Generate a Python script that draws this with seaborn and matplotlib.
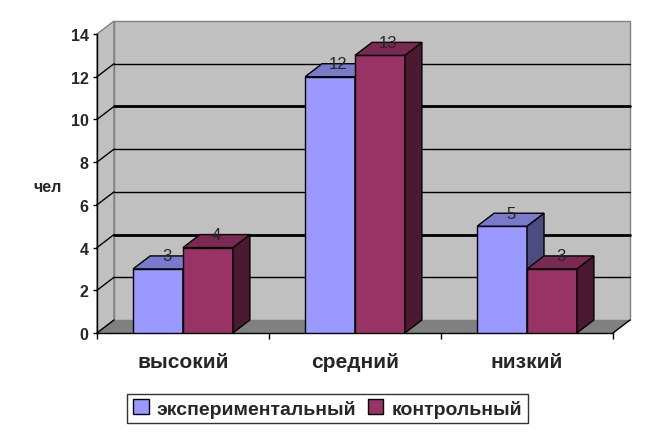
import pandas as pd
import matplotlib
matplotlib.use('Agg')
import matplotlib.pyplot as plt
import seaborn as sns
from matplotlib.patches import Polygon, Patch

levels = ['высокий', 'средний', 'низкий']
experimental = [3, 12, 5]
control = [4, 13, 3]
series = ['экспериментальный', 'контрольный']
yticks = [0, 2, 4, 6, 8, 10, 12, 14]

front_colors = ['#9999FF', '#993366']
top_colors = ['#7A7ACC', '#7A2952']
side_colors = ['#4C4C80', '#4C1933']

df = pd.DataFrame({
    'level': levels * 2,
    'count': experimental + control,
    'group': [series[0]] * len(levels) + [series[1]] * len(levels),
})

sns.set_style('white')
plt.rcParams['font.family'] = ['Liberation Sans', 'DejaVu Sans']
plt.rcParams['font.weight'] = 'bold'

fig = plt.figure(figsize=(6.58, 4.39), dpi=100)
ax = fig.add_axes([97 / 658, 105 / 439, 516 / 658, 299 / 439])
ax.set_facecolor('white')

sns.barplot(data=df, x='level', y='count', hue='group', palette=front_colors,
            saturation=1, width=0.58, edgecolor='black', linewidth=1,
            legend=False, ax=ax)
bars = sorted(ax.patches, key=lambda p: p.get_x())

ax.set_xlim(-0.5, 2.5)
ax.set_ylim(0, 14)

# depth of the fake 3d box
dx = 17 / 516 * 3
dy = 13 / 299 * 14
x0, x1 = -0.5, 2.5
ytop = yticks[-1]

# back wall, floor and left wall
ax.add_patch(Polygon([(x0 + dx, dy), (x1 + dx, dy), (x1 + dx, ytop + dy), (x0 + dx, ytop + dy)],
                     closed=True, facecolor='#C0C0C0', edgecolor='#808080', lw=1, zorder=0.5, clip_on=False))
ax.add_patch(Polygon([(x0, 0), (x0 + dx, dy), (x0 + dx, ytop + dy), (x0, ytop)],
                     closed=True, facecolor='#C0C0C0', edgecolor='#808080', lw=1, zorder=0.5, clip_on=False))
ax.add_patch(Polygon([(x0, 0), (x1, 0), (x1 + dx, dy), (x0 + dx, dy)],
                     closed=True, facecolor='#808080', edgecolor='none', zorder=0.6, clip_on=False))
ax.plot([x1, x1 + dx], [0, dy], color='black', lw=1, zorder=0.7, clip_on=False)

# gridlines on back wall + diagonals on left wall
for v in yticks[:-1]:
    lw = 2 if v in (4, 10) else 1
    if v > 0:
        ax.plot([x0 + dx, x1 + dx], [v + dy, v + dy], color='black', lw=lw, zorder=1, clip_on=False)
    ax.plot([x0, x0 + dx], [v, v + dy], color='black', lw=1, zorder=1, clip_on=False)

# 3d faces for the bars, left to right
for i, p in enumerate(bars):
    bx, w, h = p.get_x(), p.get_width(), p.get_height()
    k = 0 if p.get_facecolor()[2] > 0.9 else 1
    z = 3 + i * 0.1
    p.set_zorder(z)
    ax.add_patch(Polygon([(bx + w, 0), (bx + w + dx, dy), (bx + w + dx, h + dy), (bx + w, h)],
                         closed=True, facecolor=side_colors[k], edgecolor='black', lw=1, zorder=z))
    ax.add_patch(Polygon([(bx, h), (bx + dx, h + dy), (bx + w + dx, h + dy), (bx + w, h)],
                         closed=True, facecolor=top_colors[k], edgecolor='black', lw=1, zorder=z))
    ax.text(bx + w / 2 + dx / 2, h + dy, f'{h:.0f}', ha='center', va='center',
            fontsize=12, fontweight='normal', zorder=10)

for side in ['top', 'right']:
    ax.spines[side].set_visible(False)
for side in ['left', 'bottom']:
    ax.spines[side].set_color('black')
    ax.spines[side].set_linewidth(1)

ax.set_yticks(yticks)
ax.set_yticklabels([str(t) for t in yticks], fontsize=11.5, fontweight='bold')
ax.tick_params(axis='y', direction='out', length=3, width=1, color='black', pad=3, left=True)
ax.set_xticks(range(len(levels)))
ax.set_xticklabels(levels, fontsize=15, fontweight='bold')
ax.set_xticks([-0.5, 0.5, 1.5, 2.5], minor=True)
ax.tick_params(axis='x', which='major', length=0, pad=14)
ax.tick_params(axis='x', which='minor', direction='out', length=4, width=1, color='black', bottom=True)
ax.set_xlabel('')
ax.set_ylabel('чел', rotation=0, fontsize=11.5, fontweight='bold', ha='center', va='center')
ax.yaxis.set_label_coords(-0.096, 0.49)

handles = [Patch(facecolor=c, edgecolor='black', label=s) for c, s in zip(front_colors, series)]
leg = fig.legend(handles=handles, loc='center', bbox_to_anchor=(327.5 / 658, 1 - 409.5 / 439),
                 ncol=2, frameon=True, fancybox=False, edgecolor='black', fontsize=14,
                 handlelength=0.8, handleheight=0.8, handletextpad=0.4, columnspacing=0.6,
                 borderpad=0.3, borderaxespad=0)
leg.get_frame().set_linewidth(1)
for t in leg.get_texts():
    t.set_fontweight('bold')

fig.savefig('out.png', dpi=100)
